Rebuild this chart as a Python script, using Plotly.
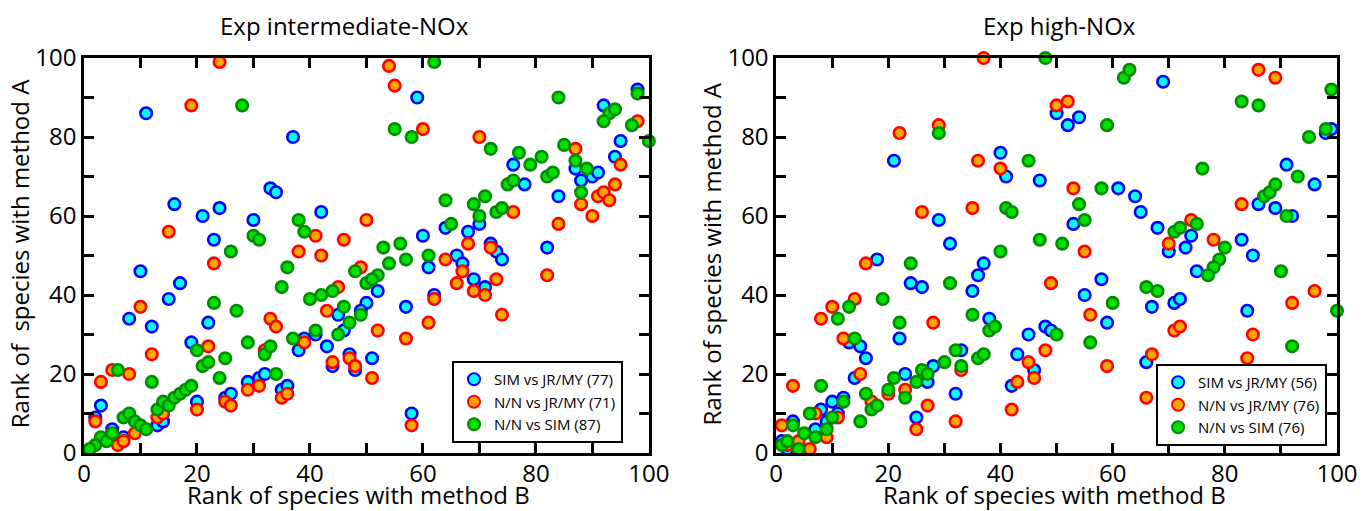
import plotly.graph_objects as go

# ---------------- data: Exp intermediate-NOx (left) ----------------
L_sim_x = [11, 37, 33, 34, 16, 21, 24, 30, 42, 23, 59, 98, 92, 95, 94, 87, 88, 90, 91, 84, 82,
           76, 78, 64, 68, 70, 60, 66, 72, 73, 74, 67, 10, 17, 15, 8, 12, 22, 3, 2, 5, 7, 13, 14,
           20, 19, 25, 26, 29, 31, 32, 35, 36, 38, 39, 41, 45, 46, 43, 44, 47, 48, 50, 49, 51,
           61, 52, 57, 58, 62, 69, 71]
L_sim_y = [86, 80, 67, 66, 63, 60, 62, 59, 61, 54, 90, 92, 88, 79, 75, 72, 69, 70, 71, 65, 52,
           73, 68, 57, 56, 58, 55, 50, 53, 51, 49, 48, 46, 43, 39, 34, 32, 33, 12, 9, 6, 4, 7, 8,
           13, 28, 14, 15, 18, 19, 20, 16, 17, 26, 29, 30, 35, 31, 27, 22, 25, 21, 38, 36, 24,
           47, 41, 37, 10, 40, 44, 42]

L_nj_x = [24, 19, 50, 15, 41, 46, 38, 42, 23, 54, 55, 60, 70, 98, 87, 95, 94, 91, 92, 93, 88,
          90, 84, 76, 64, 68, 72, 10, 12, 5, 8, 3, 2, 6, 7, 9, 13, 14, 20, 22, 32, 33, 34, 25,
          26, 29, 31, 35, 36, 39, 45, 43, 44, 47, 48, 49, 51, 67, 52, 57, 58, 61, 62, 66, 69,
          71, 73, 74, 82]
L_nj_y = [99, 88, 59, 56, 55, 54, 51, 50, 48, 98, 93, 82, 80, 84, 77, 73, 68, 65, 66, 64, 63,
          60, 58, 61, 49, 53, 52, 37, 25, 21, 20, 18, 8, 2, 3, 5, 9, 10, 11, 27, 26, 34, 32, 13,
          12, 16, 17, 14, 15, 28, 42, 36, 23, 24, 22, 47, 19, 46, 31, 29, 7, 33, 39, 43, 41,
          40, 44, 35, 45]

L_ns_x = [28, 38, 39, 30, 31, 26, 62, 55, 58, 72, 84, 98, 93, 94, 92, 97, 100, 85, 87, 89, 88,
          77, 79, 81, 82, 83, 75, 76, 71, 69, 64, 70, 73, 74, 65, 53, 56, 54, 57, 61, 23, 27,
          6, 12, 3, 4, 5, 2, 1, 7, 8, 9, 10, 11, 13, 14, 15, 16, 17, 18, 19, 20, 21, 22, 25,
          24, 29, 32, 33, 34, 35, 36, 37, 41, 40, 42, 44, 46, 47, 45, 48, 50, 49, 52, 51]
L_ns_y = [88, 59, 56, 55, 54, 51, 99, 82, 80, 77, 90, 91, 86, 87, 84, 83, 79, 78, 74, 72, 66,
          76, 73, 75, 70, 71, 68, 69, 65, 63, 64, 60, 61, 62, 58, 52, 53, 48, 49, 50, 38, 36,
          21, 18, 4, 3, 5, 2, 1, 9, 10, 8, 7, 6, 11, 13, 12, 14, 15, 16, 17, 26, 22, 23, 24,
          19, 28, 25, 27, 20, 42, 47, 29, 31, 39, 40, 41, 37, 33, 30, 46, 43, 35, 45, 44]

# ---------------- data: Exp high-NOx (right) ----------------
R_sim_x = [50, 21, 40, 41, 47, 29, 31, 69, 52, 54, 98, 99, 91, 96, 61, 64, 65, 53, 68, 74, 70,
           73, 83, 85, 86, 89, 92, 18, 24, 26, 37, 36, 35, 38, 22, 13, 15, 16, 14, 23, 27, 28,
           33, 32, 25, 43, 45, 48, 49, 46, 42, 12, 10, 8, 11, 9, 7, 3, 1, 2, 75, 58, 55, 67,
           71, 72, 59, 66, 84]
R_sim_y = [86, 74, 76, 70, 69, 59, 53, 94, 83, 85, 81, 82, 73, 68, 67, 65, 61, 58, 57, 55, 51,
           52, 54, 50, 63, 62, 60, 49, 43, 42, 48, 45, 41, 34, 29, 28, 27, 24, 19, 20, 18, 22,
           26, 15, 9, 25, 30, 32, 31, 21, 17, 14, 13, 11, 10, 8, 6, 8, 3, 1, 46, 44, 40, 37,
           38, 39, 33, 23, 36]

R_nj_x = [37, 50, 22, 29, 36, 40, 26, 35, 86, 89, 52, 53, 74, 70, 78, 83, 55, 16, 49, 14, 10,
          8, 28, 12, 15, 3, 23, 20, 33, 27, 25, 32, 17, 48, 45, 46, 43, 42, 7, 11, 9, 6, 4, 1,
          2, 56, 59, 71, 72, 67, 66, 85, 84, 92, 96]
R_nj_y = [100, 88, 81, 83, 74, 72, 61, 62, 97, 95, 89, 67, 59, 53, 54, 63, 51, 48, 43, 39, 37,
          34, 33, 29, 20, 17, 16, 15, 21, 12, 6, 8, 13, 26, 23, 19, 18, 11, 10, 9, 4, 1, 3, 7,
          2, 35, 22, 31, 32, 25, 14, 30, 24, 38, 41]

R_ns_x = [48, 29, 45, 41, 42, 47, 51, 40, 62, 63, 99, 83, 86, 59, 95, 98, 76, 93, 58, 54, 55,
          71, 72, 75, 80, 79, 87, 88, 89, 91, 24, 31, 19, 13, 11, 22, 35, 38, 39, 14, 8, 21,
          20, 23, 25, 26, 27, 30, 32, 33, 16, 17, 18, 15, 36, 37, 50, 12, 6, 10, 9, 7, 5, 4,
          3, 1, 2, 78, 77, 90, 66, 68, 60, 56, 100, 92]
R_ns_y = [100, 81, 74, 62, 61, 54, 53, 51, 95, 97, 92, 89, 88, 83, 80, 82, 72, 70, 67, 63, 59,
          56, 57, 58, 52, 49, 65, 66, 68, 60, 48, 43, 39, 37, 34, 33, 35, 31, 32, 29, 17, 19,
          16, 14, 18, 21, 20, 23, 26, 22, 15, 11, 12, 8, 24, 25, 30, 13, 10, 9, 6, 4, 5, 1,
          7, 2, 3, 47, 45, 46, 42, 41, 38, 28, 36, 27]

names_left = ["SIM vs JR/MY (77)", "N/N vs JR/MY (71)", "N/N vs SIM (87)"]
names_right = ["SIM vs JR/MY (56)", "N/N vs JR/MY (76)", "N/N vs SIM (76)"]

styles = [("#00FFFF", "#0000FF"), ("#FFA500", "#FF0000"), ("#00E000", "#008A00")]

FONT = "Open Sans, Noto Sans, Lato, sans-serif"

fig = go.Figure()

left_sets = [(L_sim_x, L_sim_y), (L_nj_x, L_nj_y), (L_ns_x, L_ns_y)]
right_sets = [(R_sim_x, R_sim_y), (R_nj_x, R_nj_y), (R_ns_x, R_ns_y)]

for (xs, ys), nm, (fc, lc) in zip(left_sets, names_left, styles):
    fig.add_trace(go.Scatter(x=xs, y=ys, mode="markers", name=nm, xaxis="x", yaxis="y",
                             legend="legend", cliponaxis=False,
                             marker=dict(size=11.5, color=fc, line=dict(color=lc, width=2.6))))
for (xs, ys), nm, (fc, lc) in zip(right_sets, names_right, styles):
    fig.add_trace(go.Scatter(x=xs, y=ys, mode="markers", name=nm, xaxis="x2", yaxis="y2",
                             legend="legend2", cliponaxis=False,
                             marker=dict(size=11.5, color=fc, line=dict(color=lc, width=2.6))))

axis_common = dict(
    range=[0, 100], showline=True, linewidth=2.5, linecolor="black", mirror="allticks",
    ticks="inside", ticklen=10, tickwidth=2.5, tickcolor="black", tick0=0, dtick=20,
    showgrid=False, zeroline=False,
    tickfont=dict(family=FONT, size=24, color="black"),
    minor=dict(dtick=10, ticks="inside", ticklen=10, tickwidth=2.5, tickcolor="black",
               showgrid=False),
)

L_DOM = [0.0, 0.4508]
R_DOM = [0.5524, 1.0]

legend_common = dict(font=dict(family=FONT, size=15, color="black"), bgcolor="white",
                     bordercolor="black", borderwidth=2, xanchor="left", yanchor="top",
                     tracegroupgap=0, itemsizing="constant")

fig.update_layout(
    width=1370, height=511, autosize=False,
    margin=dict(l=84, r=26, t=58, b=58),
    paper_bgcolor="white", plot_bgcolor="white",
    xaxis=dict(domain=L_DOM, anchor="y", ticklabelstandoff=-3, **axis_common),
    yaxis=dict(domain=[0, 1], anchor="x", **axis_common),
    xaxis2=dict(domain=R_DOM, anchor="y2", ticklabelstandoff=-3, **axis_common),
    yaxis2=dict(domain=[0, 1], anchor="x2", **axis_common),
    legend=dict(x=0.2937, y=0.233, **legend_common),
    legend2=dict(x=0.8556, y=0.2253, **legend_common),
    font=dict(family=FONT, color="black"),
)

ann_font = dict(family=FONT, size=24, color="black")
annotations = [
    dict(text="Exp intermediate-NOx", x=0.2079, y=1.0835),
    dict(text="Exp high-NOx", x=0.7786, y=1.0835),
    dict(text="Rank of species with method B", x=0.219, y=-0.106),
    dict(text="Rank of species with method B", x=0.7746, y=-0.106),
    dict(text="Rank of \u00a0species with method A", x=-0.0508, y=0.504, textangle=-90),
    dict(text="Rank of species with method A", x=0.5008, y=0.504, textangle=-90),
]
for a in annotations:
    fig.add_annotation(xref="paper", yref="paper", showarrow=False, font=ann_font,
                       xanchor="center", yanchor="middle", **a)

fig.write_html("out.html", config={"displayModeBar": False},
               post_script="document.body.style.margin='0';")
